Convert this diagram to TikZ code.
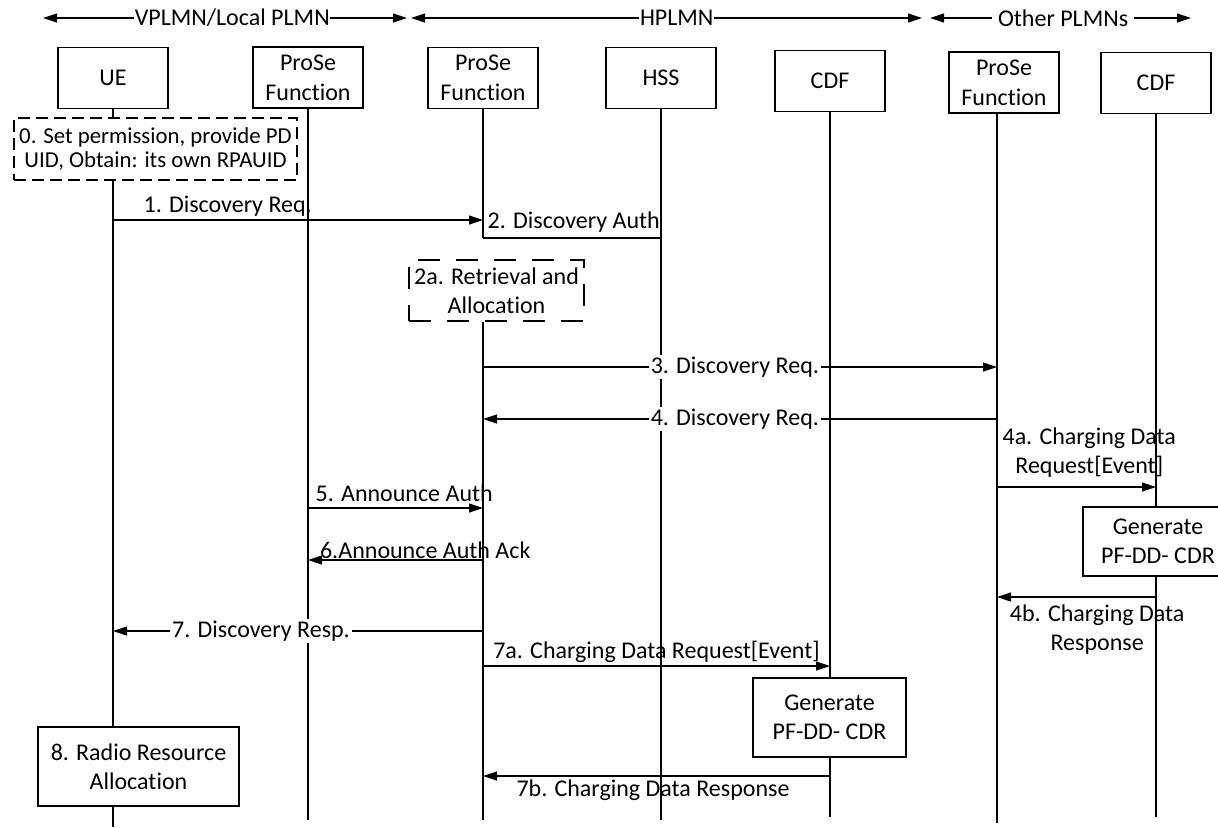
\documentclass[tikz,border=0pt]{standalone}
\usepackage{fontspec}
\setmainfont{Carlito}[Ligatures=NoCommon]
\usetikzlibrary{arrows.meta}

\tikzset{
  actor/.style={draw, line width=0.6pt, fill=white, align=center, inner sep=1pt,
    minimum width=55pt, minimum height=30.5pt, font=\fontsize{12}{15}\selectfont},
  proc/.style={draw, line width=0.6pt, fill=white, align=center, inner sep=1pt},
  dbox/.style={proc, dash pattern=on 6pt off 3pt},
  dboxwide/.style={proc, dash pattern=on 11pt off 8pt},
  life/.style={line width=0.6pt},
  msg/.style={line width=0.6pt, -{Triangle[length=7pt,width=4.5pt]}},
  plain/.style={line width=0.6pt},
  plmnspan/.style={line width=0.6pt,
    {Triangle[length=7pt,width=4.5pt]}-{Triangle[length=7pt,width=4.5pt]}},
  lbl/.style={inner sep=1.5pt, align=center},
  online/.style={fill=white, inner sep=1pt},
}

\begin{document}
\begin{tikzpicture}[x=0.5pt, y=-0.5pt, font=\fontsize{12}{14.5}\selectfont]
  \useasboundingbox (0,0) rectangle (1218,827);

  % Network domains
  \coordinate (d0) at (43,18);
  \coordinate (d1) at (407,18);
  \coordinate (d2) at (411,18);
  \coordinate (d3) at (922,18);
  \coordinate (d4) at (930,18);
  \coordinate (d5) at (1191,18);
  \draw[plmnspan] (d0) -- node[online, inner sep=0.3pt, pos=.52] (vplmn) {VPLMN/Local PLMN} (d1);
  \draw[plmnspan] (d2) -- node[online, inner sep=0.3pt, pos=.52] (hplmn) {HPLMN} (d3);
  \draw[plmnspan] (d4) -- node[online, inner sep=3pt, pos=.51] (oplmn) {Other PLMNs} (d5);

  % Define nodes
  \node[actor] (ue)   at (113,78)    {UE};
  \node[actor] (pfv)  at (308,77.5)  {ProSe\\Function};
  \node[actor] (pfh)  at (483,78)    {ProSe\\Function};
  \node[actor] (hss)  at (661,78)    {HSS};
  \node[actor] (cdf)  at (830,81)    {CDF};
  \node[actor] (pfo)  at (1004,82.5) {ProSe\\Function};
  \node[actor] (cdfo) at (1156,83)   {CDF};

  % Lifelines
  \coordinate (e-ue)   at (113,827);
  \coordinate (e-pfv)  at (308,820);
  \coordinate (e-pfh)  at (483,820);
  \coordinate (e-hss)  at (661,820);
  \coordinate (e-cdf)  at (830,817);
  \coordinate (e-pfo)  at (997,823);
  \coordinate (e-cdfo) at (1156,817);

  % Message heights
  \coordinate (m1)  at (0,220);
  \coordinate (m2)  at (0,238);
  \coordinate (m3)  at (0,367);
  \coordinate (m4)  at (0,419);
  \coordinate (m4a) at (0,487);
  \coordinate (m5)  at (0,508);
  \coordinate (m6)  at (0,560);
  \coordinate (m4b) at (0,597);
  \coordinate (m7)  at (0,631);
  \coordinate (m7a) at (0,666);
  \coordinate (m7b) at (0,776);

  \draw[life] (ue) -- (e-ue);
  \draw[life] (pfv) -- (e-pfv);
  \draw[life] (pfh) -- (pfh |- m2);
  \draw[life] (hss) -- (e-hss);
  \draw[life] (cdf) -- (e-cdf);
  \draw[life] (pfo.south -| e-pfo) -- (e-pfo);
  \draw[life] (cdfo) -- (e-cdfo);

  % Local steps
  \node[dbox, minimum width=141.5pt, minimum height=31pt,
    font=\fontsize{11.4}{12}\selectfont] (r0) at (155.5,149)
    {0. Set permission, provide PD\\UID, Obtain: its own RPAUID};
  \node[dboxwide, minimum width=87.5pt, minimum height=30.5pt] (r2a) at (496.5,290.5)
    {2a. Retrieval and\\Allocation};
  \node[proc, minimum width=75pt, minimum height=34.5pt] (g4) at (1158,541.5)
    {Generate\\PF-DD- CDR};
  \node[proc, minimum width=76.5pt, minimum height=39.5pt] (g7) at (829.5,717.5)
    {Generate\\PF-DD- CDR};
  \node[proc, minimum width=100.5pt, minimum height=39.5pt] (r8) at (138.5,766.5)
    {8. Radio Resource\\Allocation};
  \draw[life] (e-pfh |- r2a.south) -- (e-pfh);

  % Connect the nodes
  \draw[msg] (e-ue |- m1) -- node[lbl, above, pos=.31] (t1) {1. Discovery Req.} (e-pfh |- m1);
  \draw[plain] (e-pfh |- m2) -- node[lbl, above=1pt, pos=.51] (t2) {2. Discovery Auth} (e-hss |- m2);
  \draw[msg] (e-pfh |- m3) -- node[online, pos=.49] (t3) {3. Discovery Req.} (e-pfo |- m3);
  \draw[msg] (e-pfo |- m4) -- node[online, pos=.51] (t4) {4. Discovery Req.} (e-pfh |- m4);
  \draw[msg] (e-pfo |- m4a) -- node[lbl, above=3pt, pos=.58] (t4a) {4a. Charging Data\\Request[Event]} (e-cdfo |- m4a);
  \draw[msg] (e-pfv |- m5) -- node[lbl, above=1.5pt, pos=.55] (t5) {5. Announce Auth} (e-pfh |- m5);
  \draw[msg] (e-pfh |- m6) -- node[lbl, above, inner sep=0.5pt, pos=.33] (t6) {6.Announce Auth Ack} (e-pfv |- m6);
  \draw[msg] (e-cdfo |- m4b) -- node[lbl, below=2pt, pos=.37] (t4b) {4b. Charging Data\\Response} (e-pfo |- m4b);
  \draw[msg] (e-pfh |- m7) -- node[online, pos=.6] (t7) {7. Discovery Resp.} (e-ue |- m7);
  \draw[msg] (e-pfh |- m7a) -- node[lbl, above, pos=.5] (t7a) {7a. Charging Data Request[Event]} (e-cdf |- m7a);
  \draw[msg] (e-cdf |- m7b) -- node[lbl, below, pos=.51] (t7b) {7b. Charging Data Response} (e-pfh |- m7b);
\end{tikzpicture}
\end{document}
